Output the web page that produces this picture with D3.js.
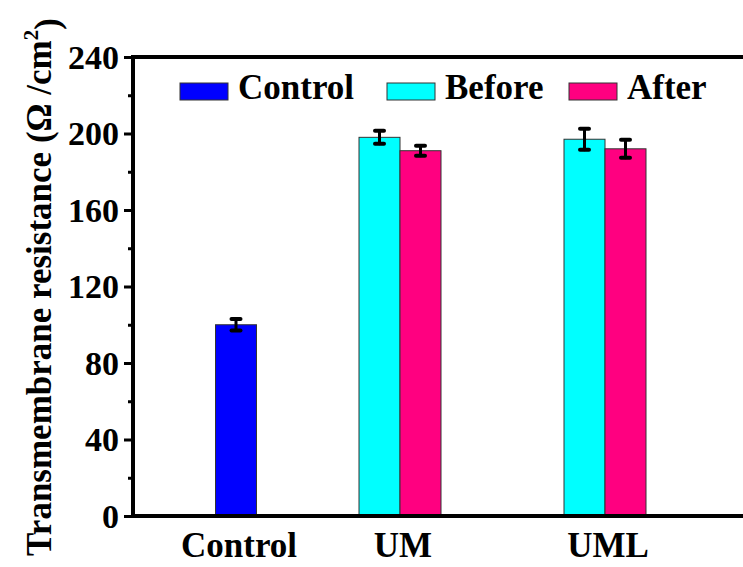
<!DOCTYPE html>
<html>
<head>
<meta charset="utf-8">
<script src="https://cdn.jsdelivr.net/npm/d3@7"></script>
<style>
  body { margin: 0; background: #fff; }
  text { font-family: "Liberation Serif", "Times New Roman", serif; font-weight: bold; }
</style>
</head>
<body>
<div id="chart"></div>
<script>
// chart data
var categories = ['Control', 'UM', 'UML'];
var categoryPos = [1, 2, 3.25];
var seriesNames = ['Control', 'Before', 'After'];
var controlValues = [100, null, null];
var controlErrors = [3, null, null];
var beforeValues = [null, 198, 197];
var beforeErrors = [null, 3.4, 5.5];
var afterValues = [null, 191, 192];
var afterErrors = [null, 2.6, 4.7];
var yTicks = [0, 40, 80, 120, 160, 200, 240];
var yMinorTicks = [20, 60, 100, 140, 180, 220];

var svgWidth = 743;
var svgHeight = 567;

var margin = { top: 57, right: 0, bottom: 51, left: 133 };

var colors = { Control: '#0000ff', Before: '#00ffff', After: '#ff0080' };
var offsets = { Control: 0, Before: -0.125, After: 0.125 };
var barUnits = 0.25;

var svg = d3.select('#chart')
    .append('svg')
    .attr('width', svgWidth)
    .attr('height', svgHeight);

// scales
var yScale = d3.scaleLinear()
    .domain([0, 240])
    .range([svgHeight - margin.bottom, margin.top]);

var xScale = d3.scaleLinear()
    .domain([0, 4])
    .range([72, 728]);

var barWidth = xScale(barUnits) - xScale(0);

// build flat list of bars
var bars = [];
var seriesValues = { Control: controlValues, Before: beforeValues, After: afterValues };
var seriesErrors = { Control: controlErrors, Before: beforeErrors, After: afterErrors };
seriesNames.forEach(function (s) {
    seriesValues[s].forEach(function (v, i) {
        if (v == null) return;
        bars.push({ series: s, cat: categories[i], pos: categoryPos[i] + offsets[s], value: v, err: seriesErrors[s][i] });
    });
});

// bars
svg.append('g').selectAll('rect')
    .data(bars)
    .enter()
    .append('rect')
    .attr('x', function (d) { return xScale(d.pos) - barWidth / 2; })
    .attr('y', function (d) { return yScale(d.value); })
    .attr('width', barWidth)
    .attr('height', function (d) { return yScale(0) - yScale(d.value); })
    .attr('fill', function (d) { return colors[d.series]; })
    .attr('stroke', '#333')
    .attr('stroke-width', 1);

// error bars
var errG = svg.append('g')
    .attr('stroke', '#000')
    .attr('stroke-linecap', 'round');

errG.selectAll('line.stem')
    .data(bars)
    .enter()
    .append('line')
    .attr('class', 'stem')
    .attr('x1', function (d) { return xScale(d.pos); })
    .attr('x2', function (d) { return xScale(d.pos); })
    .attr('y1', function (d) { return yScale(d.value + d.err); })
    .attr('y2', function (d) { return yScale(d.value - d.err); })
    .attr('stroke-width', 3);

['top', 'bottom'].forEach(function (side) {
    errG.selectAll('line.cap-' + side)
        .data(bars)
        .enter()
        .append('line')
        .attr('class', 'cap-' + side)
        .attr('x1', function (d) { return xScale(d.pos) - 4.5; })
        .attr('x2', function (d) { return xScale(d.pos) + 4.5; })
        .attr('y1', function (d) { return yScale(side === 'top' ? d.value + d.err : d.value - d.err); })
        .attr('y2', function (d) { return yScale(side === 'top' ? d.value + d.err : d.value - d.err); })
        .attr('stroke-width', 4);
});

// left axis, major ticks
var leftAxis = d3.axisLeft(yScale)
    .tickValues(yTicks)
    .tickSize(9)
    .tickPadding(5)
    .tickFormat(d3.format('d'));

var yAxisG = svg.append('g')
    .attr('transform', 'translate(' + margin.left + ',0)')
    .call(leftAxis);
yAxisG.select('.domain').remove();
yAxisG.selectAll('.tick line').attr('stroke', '#000').attr('stroke-width', 3);
yAxisG.selectAll('.tick text')
    .attr('fill', '#000')
    .style('font-size', '34px')
    .attr('dy', '0.33em');

// left axis, minor ticks
var minorAxis = d3.axisLeft(yScale)
    .tickValues(yMinorTicks)
    .tickSize(5)
    .tickFormat('');
var yMinorG = svg.append('g')
    .attr('transform', 'translate(' + margin.left + ',0)')
    .call(minorAxis);
yMinorG.select('.domain').remove();
yMinorG.selectAll('.tick line').attr('stroke', '#000').attr('stroke-width', 3);

// frame lines: left, top, bottom (plot runs past right edge)
svg.append('line')
    .attr('x1', margin.left).attr('x2', margin.left)
    .attr('y1', yScale(240) - 2).attr('y2', yScale(0) + 2)
    .attr('stroke', '#000').attr('stroke-width', 4);
svg.append('line')
    .attr('x1', margin.left - 2).attr('x2', svgWidth)
    .attr('y1', yScale(240)).attr('y2', yScale(240))
    .attr('stroke', '#000').attr('stroke-width', 4);
svg.append('line')
    .attr('x1', margin.left - 2).attr('x2', svgWidth)
    .attr('y1', yScale(0)).attr('y2', yScale(0))
    .attr('stroke', '#000').attr('stroke-width', 4);

// x category labels
svg.append('g').selectAll('text')
    .data(categories)
    .enter()
    .append('text')
    .attr('x', function (d, i) { return xScale(categoryPos[i]) + 3; })
    .attr('y', yScale(0) + 41)
    .attr('text-anchor', 'middle')
    .style('font-size', '35px')
    .text(function (d) { return d; });

// y title
var yTitle = svg.append('text')
    .attr('transform', 'translate(51,' + 287 + ') rotate(-90)')
    .attr('text-anchor', 'middle')
    .style('font-size', '35px');
yTitle.append('tspan').text('Transmembrane resistance (\u03A9 /cm');
yTitle.append('tspan').attr('dy', '-0.6em').style('font-size', '21px').text('2');
yTitle.append('tspan').attr('dy', '0.6em').text(')');

// legend
var legendX = [180, 387, 569];
var legend = svg.append('g').selectAll('g')
    .data(seriesNames)
    .enter()
    .append('g')
    .attr('transform', function (d, i) { return 'translate(' + legendX[i] + ',83)'; });
legend.append('rect')
    .attr('width', 48)
    .attr('height', 17)
    .attr('fill', function (d) { return colors[d]; })
    .attr('stroke', '#333')
    .attr('stroke-width', 1);
legend.append('text')
    .attr('x', 58)
    .attr('y', 16)
    .style('font-size', '35px')
    .text(function (d) { return d; });
</script>
</body>
</html>
